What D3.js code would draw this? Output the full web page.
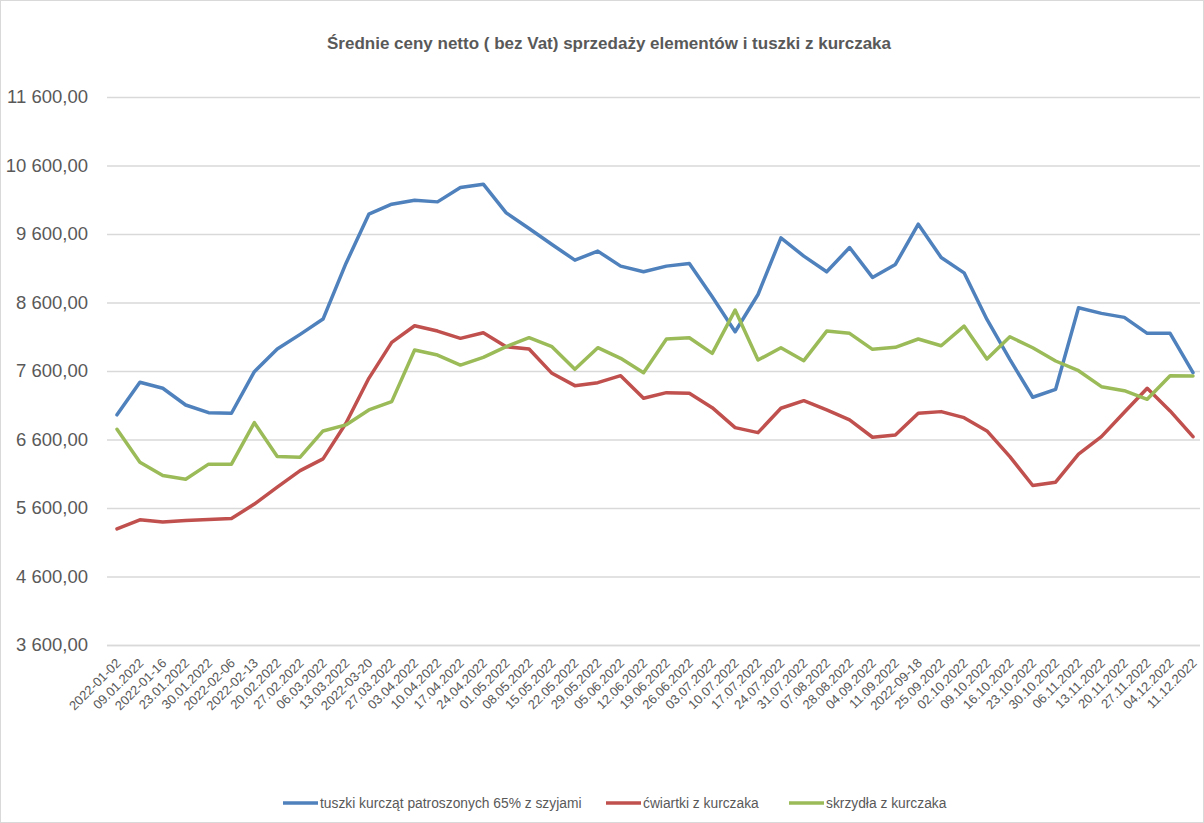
<!DOCTYPE html>
<html><head><meta charset="utf-8">
<script src="https://cdn.jsdelivr.net/npm/d3@7"></script>
<style>html,body{margin:0;padding:0;background:#fff;}</style>
</head><body>
<svg id="c" width="1204" height="823"></svg>
<script>
const categories = ["2022-01-02","09.01.2022","2022-01-16","23.01.2022","30.01.2022","2022-02-06","2022-02-13","20.02.2022","27.02.2022","06.03.2022","13.03.2022","2022-03-20","27.03.2022","03.04.2022","10.04.2022","17.04.2022","24.04.2022","01.05.2022","08.05.2022","15.05.2022","22.05.2022","29.05.2022","05.06.2022","12.06.2022","19.06.2022","26.06.2022","03.07.2022","10.07.2022","17.07.2022","24.07.2022","31.07.2022","07.08.2022","28.08.2022","04.09.2022","11.09.2022","2022-09-18","25.09.2022","02.10.2022","09.10.2022","16.10.2022","23.10.2022","30.10.2022","06.11.2022","13.11.2022","20.11.2022","27.11.2022","04.12.2022","11.12.2022"];
const tuszki = [6960,7435,7348,7104,6992,6983,7590,7921,8135,8358,9170,9889,10035,10093,10069,10279,10327,9909,9680,9447,9218,9350,9131,9048,9131,9170,8683,8173,8717,9544,9277,9048,9403,8966,9155,9743,9257,9033,8353,7770,7217,7333,8523,8441,8383,8150,8150,7576];
const cwiartki = [5296,5428,5394,5418,5432,5447,5657,5904,6146,6317,6837,7493,8018,8261,8183,8077,8159,7955,7921,7566,7386,7430,7532,7202,7284,7275,7065,6773,6700,7056,7167,7031,6886,6633,6667,6983,7007,6919,6725,6351,5928,5977,6385,6642,6997,7348,7017,6642];
const skrzydla = [6750,6269,6074,6021,6240,6240,6846,6351,6342,6725,6813,7031,7153,7906,7833,7687,7800,7955,8086,7955,7625,7940,7785,7576,8067,8086,7858,8489,7760,7940,7751,8183,8150,7916,7945,8067,7969,8256,7775,8100,7940,7746,7604,7371,7313,7187,7532,7527];
const yTicks = [3600,4600,5600,6600,7600,8600,9600,10600,11600];
const seriesNames = ["tuszki kurcząt patroszonych 65% z szyjami","ćwiartki z kurczaka","skrzydła z kurczaka"];
const colors = ["#4F81BD","#C0504D","#9BBB59"];
const title = "Średnie ceny netto ( bez Vat) sprzedaży elementów i tuszki z kurczaka";

const svg = d3.select("#c");
const font = "'Liberation Sans',Arial,sans-serif";
svg.append("rect").attr("x",0.5).attr("y",0.5).attr("width",1203).attr("height",822)
  .attr("fill","#fff").attr("stroke","#d9d9d9");

const x = d3.scalePoint().domain(categories).range([117,1193]);
const y = d3.scaleLinear().domain([3600,11600]).range([645,97]);
const loc = d3.formatLocale({decimal:",",thousands:"\u00a0",grouping:[3],currency:["",""]});
const fmt = loc.format(",.2f");

// gridlines + y labels
const yAxis = d3.axisLeft(y).tickValues(yTicks).tickSize(-(1200-107)).tickFormat(fmt).tickPadding(19);
const gy = svg.append("g").attr("transform","translate(107,0)").call(yAxis);
gy.select(".domain").remove();
gy.selectAll(".tick line").attr("stroke","#d9d9d9").attr("stroke-width",1.5);
gy.selectAll(".tick text").attr("fill","#595959").style("font-family",font).style("font-size","18.5px");

// x axis
const xAxis = d3.axisBottom(x).tickSize(0).tickPadding(0);
const gx = svg.append("g").attr("transform","translate(0,645)").call(xAxis);
gx.select(".domain").attr("d","M107,0.5H1200").attr("stroke","#d9d9d9").attr("stroke-width",1.5);
gx.selectAll(".tick text")
  .attr("text-anchor","end").attr("dy",0).attr("y",0)
  .attr("transform","translate(4,19) rotate(-45)")
  .attr("fill","#595959").style("font-family",font).style("font-size","13px");

// lines
const data = [tuszki,cwiartki,skrzydla];
const line = d3.line().x((d,i)=>x(categories[i])).y(d=>y(d));
data.forEach((s,k)=>{
  svg.append("path").datum(s).attr("d",line).attr("fill","none")
    .attr("stroke",colors[k]).attr("stroke-width",3.5).attr("stroke-linejoin","round").attr("stroke-linecap","round");
});

// title
svg.append("text").attr("x",609).attr("y",49).attr("text-anchor","middle")
  .attr("fill","#595959").style("font-family",font).style("font-size","17px").style("font-weight","bold").text(title);

// legend
const legX = [283,606,789];
seriesNames.forEach((n,k)=>{
  const g = svg.append("g").attr("transform",`translate(${legX[k]},803)`);
  g.append("line").attr("x1",0).attr("x2",35).attr("y1",0).attr("y2",0).attr("stroke",colors[k]).attr("stroke-width",3.5);
  g.append("text").attr("x",37).attr("y",5).attr("fill","#595959").style("font-family",font).style("font-size","13.8px").text(n);
});
</script>
</body></html>
